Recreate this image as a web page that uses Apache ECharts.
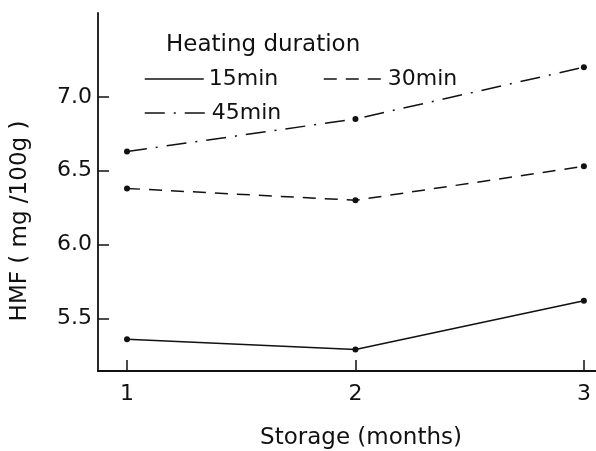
<!DOCTYPE html>
<html><head><meta charset="utf-8">
<script src="https://cdn.jsdelivr.net/npm/echarts@6/dist/echarts.min.js"></script>
<style>html,body{margin:0;padding:0;background:#fff}#c{width:596px;height:451px}</style>
</head><body><div id="c"></div>
<script>
// Data
const months = [1, 2, 3];
const hmf15 = [5.36, 5.29, 5.62];
const hmf30 = [6.38, 6.30, 6.53];
const hmf45 = [6.63, 6.85, 7.20];
const yTicks = [5.5, 6.0, 6.5, 7.0];
const xTicks = [1, 2, 3];
const seriesNames = ['15min', '30min', '45min'];
const legendTitle = 'Heating duration';
const xTitle = 'Storage (months)';
const yTitle = 'HMF ( mg /100g )';

const FONT = 'DejaVu Sans';
const INK = '#111';

function pts(vals) { return months.map((m, i) => [m, vals[i]]); }

const chart = echarts.init(document.getElementById('c'), null, {renderer: 'canvas'});

const legendCommon = {
  orient: 'horizontal',
  padding: 0,
  itemHeight: 26,
  selectedMode: false,
  itemStyle: {opacity: 0},
  lineStyle: {width: 1.5},
  textStyle: {fontFamily: FONT, fontSize: 22, color: INK, lineHeight: 26}
};

chart.setOption({
  backgroundColor: '#fff',
  animation: false,
  title: {
    text: legendTitle,
    left: 166, top: 34, padding: 0,
    textStyle: {fontFamily: FONT, fontSize: 23, fontWeight: 'normal', color: INK}
  },
  legend: [
    Object.assign({}, legendCommon, {data: [seriesNames[0]], left: 144, top: 66, itemWidth: 59}),
    Object.assign({}, legendCommon, {data: [seriesNames[1]], left: 323, top: 66, itemWidth: 59}),
    Object.assign({}, legendCommon, {data: [seriesNames[2]], left: 144, top: 100, itemWidth: 62})
  ],
  grid: {left: 98, right: 0, top: 13, bottom: 80, containLabel: false},
  xAxis: {
    type: 'value',
    min: 0.873, max: 3.053,
    splitLine: {show: false},
    axisLine: {lineStyle: {color: INK, width: 1.8}},
    axisTick: {show: true, inside: true, length: 11, customValues: xTicks, lineStyle: {color: INK, width: 1.5}},
    axisLabel: {customValues: xTicks, margin: 12, fontFamily: FONT, fontSize: 22, color: INK,
      formatter: v => String(v)}
  },
  yAxis: {
    type: 'value',
    min: 5.145, max: 7.567,
    splitLine: {show: false},
    axisLine: {show: true, lineStyle: {color: INK, width: 1.8}},
    axisTick: {show: true, inside: true, length: 11, customValues: yTicks, lineStyle: {color: INK, width: 1.5}},
    axisLabel: {customValues: yTicks, margin: 6, fontFamily: FONT, fontSize: 22, color: INK,
      formatter: v => v.toFixed(1)}
  },
  graphic: [
    {type: 'text', x: 20, y: 221, rotation: Math.PI / 2,
      style: {text: yTitle, fontFamily: FONT, fontSize: 23, fill: INK, textAlign: 'center', textVerticalAlign: 'middle'}},
    {type: 'text', x: 361, y: 438,
      style: {text: xTitle, fontFamily: FONT, fontSize: 23, fill: INK, textAlign: 'center', textVerticalAlign: 'middle'}}
  ],
  series: [
    {name: seriesNames[0], type: 'line', data: pts(hmf15), symbol: 'circle', symbolSize: 6,
      itemStyle: {color: INK}, lineStyle: {color: INK, width: 1.5, type: 'solid'}},
    {name: seriesNames[1], type: 'line', data: pts(hmf30), symbol: 'circle', symbolSize: 6,
      itemStyle: {color: INK}, lineStyle: {color: INK, width: 1.5, type: [13, 9]}},
    {name: seriesNames[2], type: 'line', data: pts(hmf45), symbol: 'circle', symbolSize: 6,
      itemStyle: {color: INK}, lineStyle: {color: INK, width: 1.5, type: [20, 9, 2, 9]}}
  ]
});
</script></body></html>
